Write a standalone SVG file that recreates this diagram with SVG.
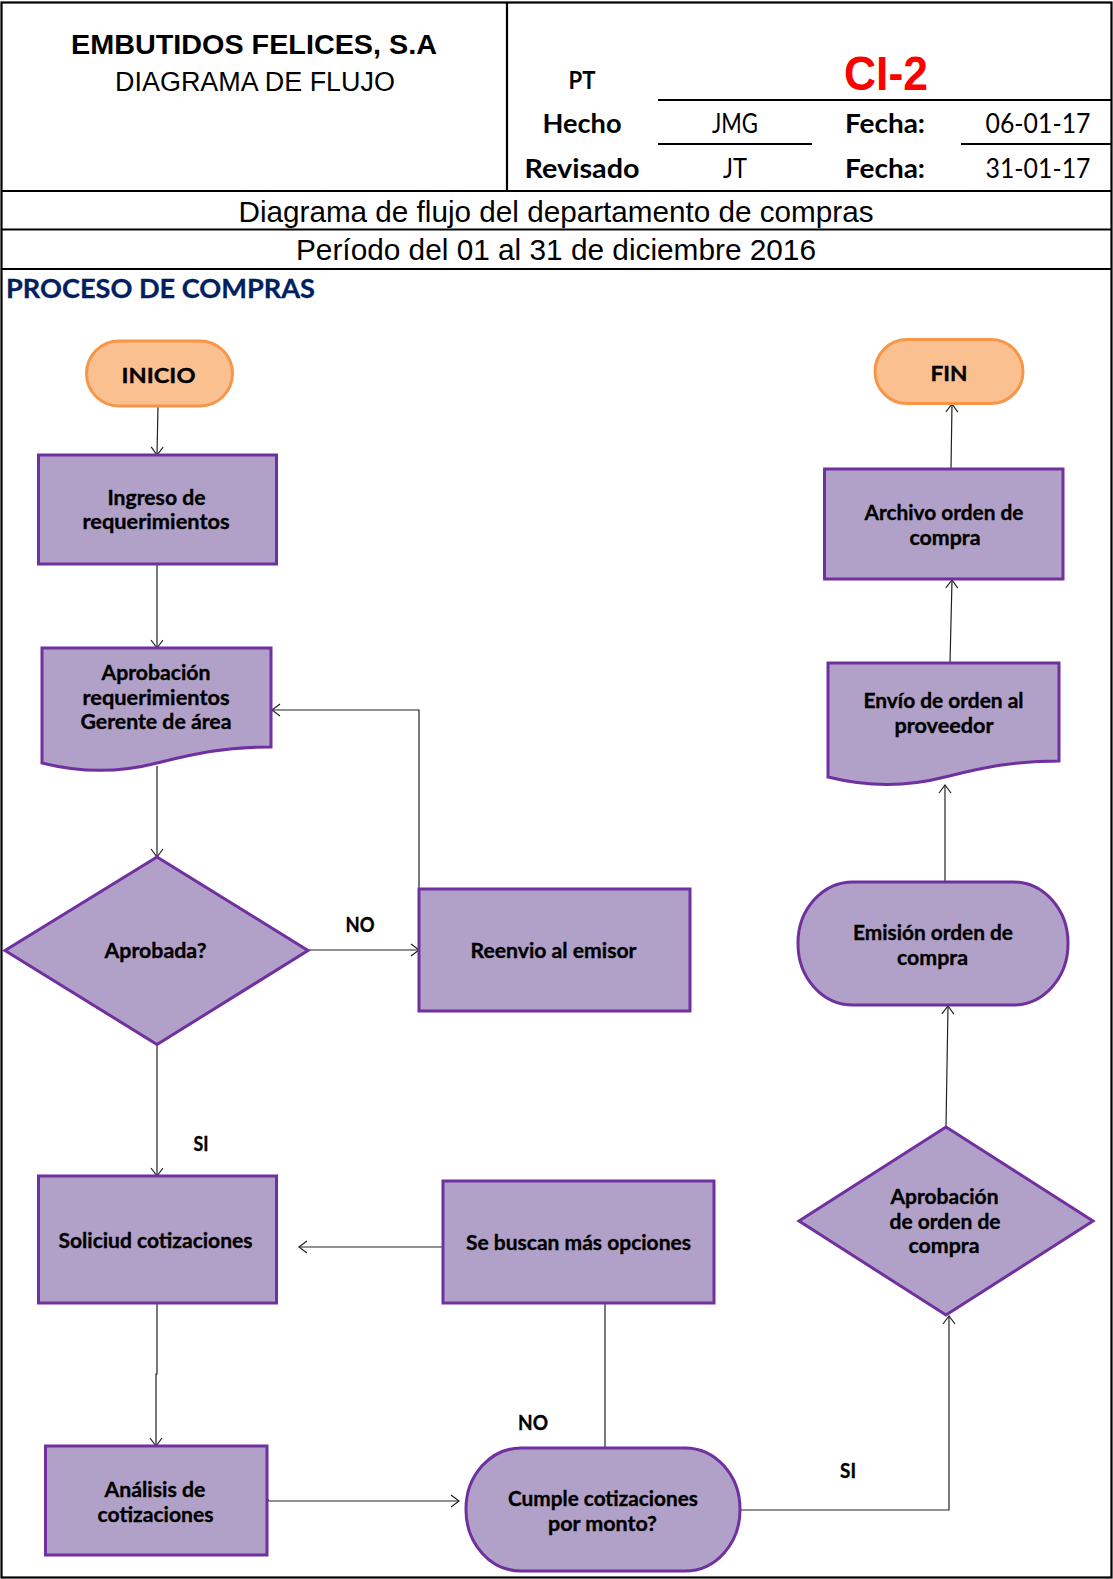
<svg xmlns="http://www.w3.org/2000/svg" width="1113" height="1579" viewBox="0 0 1113 1579">
<style>
.hl{stroke:#000;stroke-width:2.2;fill:none}
.ul{stroke:#000;stroke-width:1.8;fill:none}
.ar{font-family:"Liberation Sans",Arial,sans-serif;fill:#000;text-anchor:middle}
.cb{font-family:Lato,"Open Sans",sans-serif;font-weight:bold;fill:#000;text-anchor:middle}
.cr{font-family:Lato,"Open Sans",sans-serif;fill:#000;text-anchor:middle}
.nd{fill:#B1A0C7;stroke:#7030A0;stroke-width:3}
.tm{fill:#FAC090;stroke:#F79646;stroke-width:3}
.nt{font-family:Lato,"Open Sans",sans-serif;font-weight:bold;font-size:21px;fill:#000;stroke:#000;stroke-width:0.35;text-anchor:middle}
.cn{stroke:#222;stroke-width:1.2;fill:none}
</style>
<defs>
<marker id="ah" markerUnits="userSpaceOnUse" markerWidth="12" markerHeight="14" refX="9" refY="7" orient="auto">
<path d="M1,1 L9,7 L1,13" fill="none" stroke="#222" stroke-width="1.2"/>
</marker>
</defs>
<rect x="0" y="0" width="1113" height="1579" fill="#fff"/>
<g id="header">
<rect x="1.5" y="2.5" width="1110" height="1575" class="hl"/>
<line x1="507" y1="2.5" x2="507" y2="191" class="hl"/>
<line x1="1.5" y1="191" x2="1111.5" y2="191" class="hl"/>
<line x1="1.5" y1="229.5" x2="1111.5" y2="229.5" class="hl"/>
<line x1="1.5" y1="269" x2="1111.5" y2="269" class="hl"/>
<line x1="658" y1="100" x2="1111.5" y2="100" class="ul"/>
<line x1="658" y1="144" x2="812" y2="144" class="ul"/>
<line x1="961" y1="144" x2="1111.5" y2="144" class="ul"/>
<text x="254" y="53.5" class="ar" font-weight="bold" font-size="28" textLength="366" lengthAdjust="spacingAndGlyphs">EMBUTIDOS FELICES, S.A</text>
<text x="255" y="90.5" class="ar" font-size="27" textLength="280" lengthAdjust="spacingAndGlyphs">DIAGRAMA DE FLUJO</text>
<text x="582" y="88.5" class="cb" font-size="24" textLength="27" lengthAdjust="spacingAndGlyphs">PT</text>
<text x="886" y="89.5" class="ar" font-weight="bold" font-size="48" style="fill:#FF0000" textLength="84" lengthAdjust="spacingAndGlyphs">CI-2</text>
<text x="582" y="133" class="cb" font-size="27" textLength="79" lengthAdjust="spacingAndGlyphs">Hecho</text>
<text x="735" y="133" class="cr" font-size="26" textLength="46" lengthAdjust="spacingAndGlyphs">JMG</text>
<text x="885" y="133" class="cb" font-size="27" textLength="80" lengthAdjust="spacingAndGlyphs">Fecha:</text>
<text x="1038" y="133" class="cr" font-size="26" textLength="105" lengthAdjust="spacingAndGlyphs">06-01-17</text>
<text x="582" y="178" class="cb" font-size="27" textLength="115" lengthAdjust="spacingAndGlyphs">Revisado</text>
<text x="735" y="178" class="cr" font-size="26" textLength="24" lengthAdjust="spacingAndGlyphs">JT</text>
<text x="885" y="178" class="cb" font-size="27" textLength="80" lengthAdjust="spacingAndGlyphs">Fecha:</text>
<text x="1038" y="178" class="cr" font-size="26" textLength="105" lengthAdjust="spacingAndGlyphs">31-01-17</text>
<text x="556" y="221.5" class="ar" font-size="30" textLength="635" lengthAdjust="spacingAndGlyphs">Diagrama de flujo del departamento de compras</text>
<text x="556" y="259.5" class="ar" font-size="30" textLength="520" lengthAdjust="spacingAndGlyphs">Período del 01 al 31 de diciembre 2016</text>
<text x="6" y="298" font-family="Lato,'Open Sans',sans-serif" font-weight="bold" font-size="26" fill="#002060" stroke="#002060" stroke-width="0.3" textLength="309" lengthAdjust="spacingAndGlyphs">PROCESO DE COMPRAS</text>
</g>
<g id="connectors">
<path class="cn" d="M158,406 L157,455" marker-end="url(#ah)"/>
<path class="cn" d="M157,565 L157,648" marker-end="url(#ah)"/>
<path class="cn" d="M157,766 L157,857" marker-end="url(#ah)"/>
<path class="cn" d="M308,950 L419,950" marker-end="url(#ah)"/>
<path class="cn" d="M419,889 V710 H272" marker-end="url(#ah)"/>
<path class="cn" d="M157,1045 L157,1176" marker-end="url(#ah)"/>
<path class="cn" d="M157,1303 V1374 H156 V1446" marker-end="url(#ah)"/>
<path class="cn" d="M267,1498 L269,1501 H459" marker-end="url(#ah)"/>
<path class="cn" d="M443,1247 H299" marker-end="url(#ah)"/>
<path class="cn" d="M605,1303 V1448 H638"/>
<path class="cn" d="M740,1510 H949 V1316" marker-end="url(#ah)"/>
<path class="cn" d="M946,1127 L948,1006" marker-end="url(#ah)"/>
<path class="cn" d="M945,882 L945,785" marker-end="url(#ah)"/>
<path class="cn" d="M950,663 L952,580" marker-end="url(#ah)"/>
<path class="cn" d="M951,469 L952,404" marker-end="url(#ah)"/>
</g>
<g id="inicio">
<rect x="86.5" y="341" width="146" height="65" rx="32.5" ry="32.5" class="tm"/>
<text x="158.5" y="383" class="nt" font-size="25" textLength="74" lengthAdjust="spacingAndGlyphs">INICIO</text>
</g>
<g id="fin">
<rect x="875" y="339.5" width="148" height="64" rx="32" ry="32" class="tm"/>
<text x="949" y="381" class="nt" font-size="25" textLength="37" lengthAdjust="spacingAndGlyphs">FIN</text>
</g>
<g id="ingreso">
<rect x="38.5" y="455" width="238" height="109" class="nd"/>
<text x="156.5" y="504.5" class="nt" textLength="98" lengthAdjust="spacingAndGlyphs">Ingreso de</text>
<text x="156" y="528.5" class="nt" textLength="147" lengthAdjust="spacingAndGlyphs">requerimientos</text>
</g>
<g id="aprobacion-req">
<path d="M42,648 H271 V747 C220,747 190,755 157,763 C130,770 90,775 42,763 Z" class="nd"/>
<text x="156" y="680" class="nt" textLength="109" lengthAdjust="spacingAndGlyphs">Aprobación</text>
<text x="156" y="705" class="nt" textLength="147" lengthAdjust="spacingAndGlyphs">requerimientos</text>
<text x="156" y="729" class="nt" textLength="151" lengthAdjust="spacingAndGlyphs">Gerente de área</text>
</g>
<g id="aprobada">
<path d="M157,857 L308,950.5 L157,1044.5 L5,950.5 Z" class="nd"/>
<text x="155.5" y="958" class="nt" textLength="102" lengthAdjust="spacingAndGlyphs">Aprobada?</text>
</g>
<g id="reenvio">
<rect x="419" y="889" width="271" height="122" class="nd"/>
<text x="553.5" y="958" class="nt" textLength="166" lengthAdjust="spacingAndGlyphs">Reenvio al emisor</text>
</g>
<g id="labels">
<text x="360" y="932" class="nt" font-size="19" textLength="29" lengthAdjust="spacingAndGlyphs">NO</text>
<text x="201" y="1151" class="nt" font-size="19" textLength="15" lengthAdjust="spacingAndGlyphs">SI</text>
<text x="533" y="1430" class="nt" font-size="19" textLength="30" lengthAdjust="spacingAndGlyphs">NO</text>
<text x="848" y="1478" class="nt" font-size="19" textLength="16" lengthAdjust="spacingAndGlyphs">SI</text>
</g>
<g id="solicitud">
<rect x="38.5" y="1176" width="238" height="127" class="nd"/>
<text x="155.5" y="1248" class="nt" textLength="194" lengthAdjust="spacingAndGlyphs">Soliciud cotizaciones</text>
</g>
<g id="se-buscan">
<rect x="443" y="1181" width="271" height="122" class="nd"/>
<text x="578.5" y="1250" class="nt" textLength="225" lengthAdjust="spacingAndGlyphs">Se buscan más opciones</text>
</g>
<g id="analisis">
<rect x="45.5" y="1446" width="221.5" height="109" class="nd"/>
<text x="155" y="1497" class="nt" textLength="101" lengthAdjust="spacingAndGlyphs">Análisis de</text>
<text x="155.5" y="1522" class="nt" textLength="116" lengthAdjust="spacingAndGlyphs">cotizaciones</text>
</g>
<g id="cumple">
<rect x="466" y="1448" width="274" height="123" rx="55" ry="61" class="nd"/>
<text x="603" y="1506" class="nt" textLength="190" lengthAdjust="spacingAndGlyphs">Cumple cotizaciones</text>
<text x="602.5" y="1531" class="nt" textLength="109" lengthAdjust="spacingAndGlyphs">por monto?</text>
</g>
<g id="aprobacion-orden">
<path d="M946,1127 L1093,1221 L946,1315 L799,1221 Z" class="nd"/>
<text x="944.5" y="1203.5" class="nt" textLength="108" lengthAdjust="spacingAndGlyphs">Aprobación</text>
<text x="945" y="1228.5" class="nt" textLength="111" lengthAdjust="spacingAndGlyphs">de orden de</text>
<text x="944" y="1253" class="nt" textLength="71" lengthAdjust="spacingAndGlyphs">compra</text>
</g>
<g id="emision">
<rect x="798" y="882" width="270" height="123" rx="55" ry="61" class="nd"/>
<text x="933" y="940" class="nt" textLength="160" lengthAdjust="spacingAndGlyphs">Emisión orden de</text>
<text x="932.5" y="965" class="nt" textLength="71" lengthAdjust="spacingAndGlyphs">compra</text>
</g>
<g id="envio">
<path d="M828,663 H1059 V761 C1008,761 978,769 945,777 C918,784 876,789 828,777 Z" class="nd"/>
<text x="943.5" y="708" class="nt" textLength="160" lengthAdjust="spacingAndGlyphs">Envío de orden al</text>
<text x="944" y="733" class="nt" textLength="99" lengthAdjust="spacingAndGlyphs">proveedor</text>
</g>
<g id="archivo">
<rect x="824.5" y="469" width="238.5" height="110" class="nd"/>
<text x="944" y="520" class="nt" textLength="159" lengthAdjust="spacingAndGlyphs">Archivo orden de</text>
<text x="945" y="545" class="nt" textLength="71" lengthAdjust="spacingAndGlyphs">compra</text>
</g>
</svg>
